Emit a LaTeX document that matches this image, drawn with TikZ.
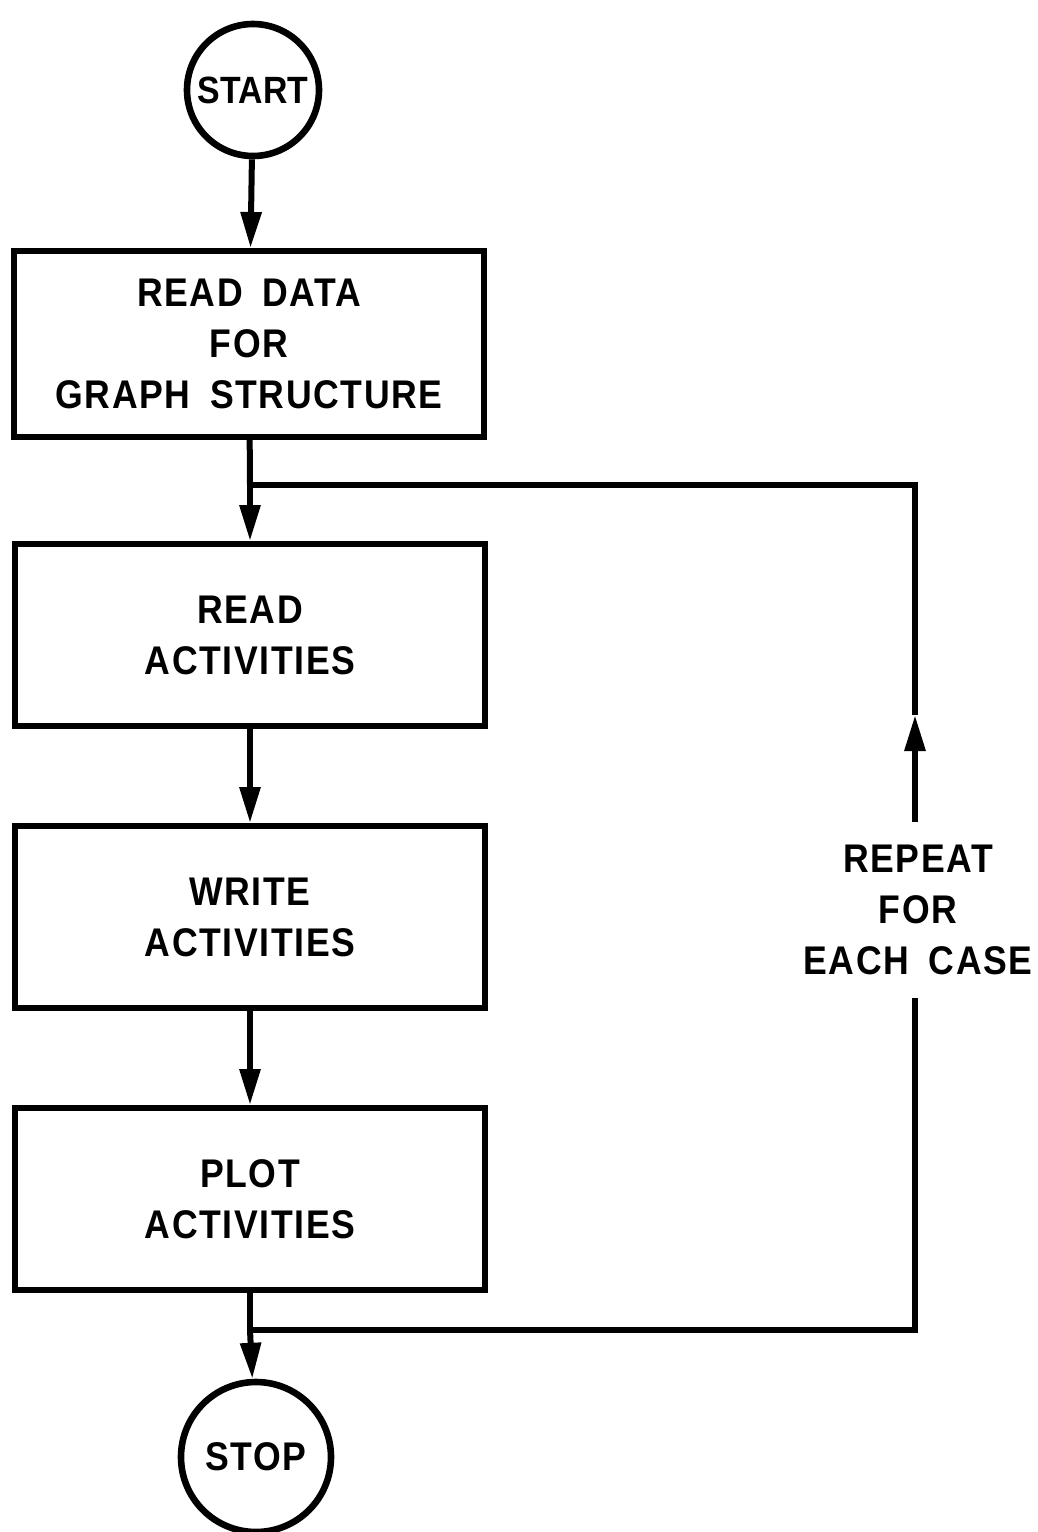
\documentclass[tikz,border=0pt]{standalone}
\usepackage{fontspec}
\setmainfont{Liberation Sans}[FakeStretch=0.89, WordSpace=1.7, LetterSpace=4]
\usetikzlibrary{arrows.meta}

\begin{document}
\begin{tikzpicture}[x=0.5pt, y=-0.5pt, line width=3pt,
    flow/.style={-{Triangle[length=18pt,width=10pt]}},
    terminal/.style={draw, circle, inner sep=0pt, line width=3.3pt},
    process/.style={draw, rectangle, minimum width=235pt, minimum height=91pt, align=center},
    every node/.style={font=\fontsize{20pt}{25.5pt}\selectfont\bfseries}]
        \useasboundingbox (0,0) rectangle (1038,1532);

        % Main column
        \node[terminal, minimum size=66pt, font=\fontsize{19pt}{25.5pt}\selectfont\bfseries\addfontfeature{LetterSpace=0}] (start) at (253,90) {START};
        \node[process, minimum height=93pt] (readgraph) at (249,344) {READ DATA\\FOR\\GRAPH STRUCTURE};
        \node[process] (readact) at (250,635) {READ\\ACTIVITIES};
        \node[process] (writeact) at (250,917) {WRITE\\ACTIVITIES};
        \node[process] (plotact) at (250,1199) {PLOT\\ACTIVITIES};
        \node[terminal, minimum size=75pt] (stop) at (256,1457) {STOP};

        % Loop back
        \coordinate (split) at (250,485);
        \coordinate (merge) at (250,1330);
        \coordinate (splitR) at (915,485);
        \coordinate (mergeR) at (915,1330);
        \coordinate (tip) at (915,715);
        \node[align=center, inner sep=10pt] (repeat) at (918,910) {REPEAT\\FOR\\EACH CASE};

        \draw[flow] (start) -- (readgraph);
        \draw (readgraph) -- (split);
        \draw[flow] (split) -- (readact);
        \draw[flow] (readact) -- (writeact);
        \draw[flow] (writeact) -- (plotact);
        \draw (plotact) -- (merge);
        \draw[flow] (merge) -- (stop);

        \draw (merge) -- (mergeR) -- (repeat.south -| mergeR);
        \draw[flow] (repeat.north -| tip) -- (tip);
        \draw (tip) -- (splitR) -- (split);
    \end{tikzpicture}
\end{document}
